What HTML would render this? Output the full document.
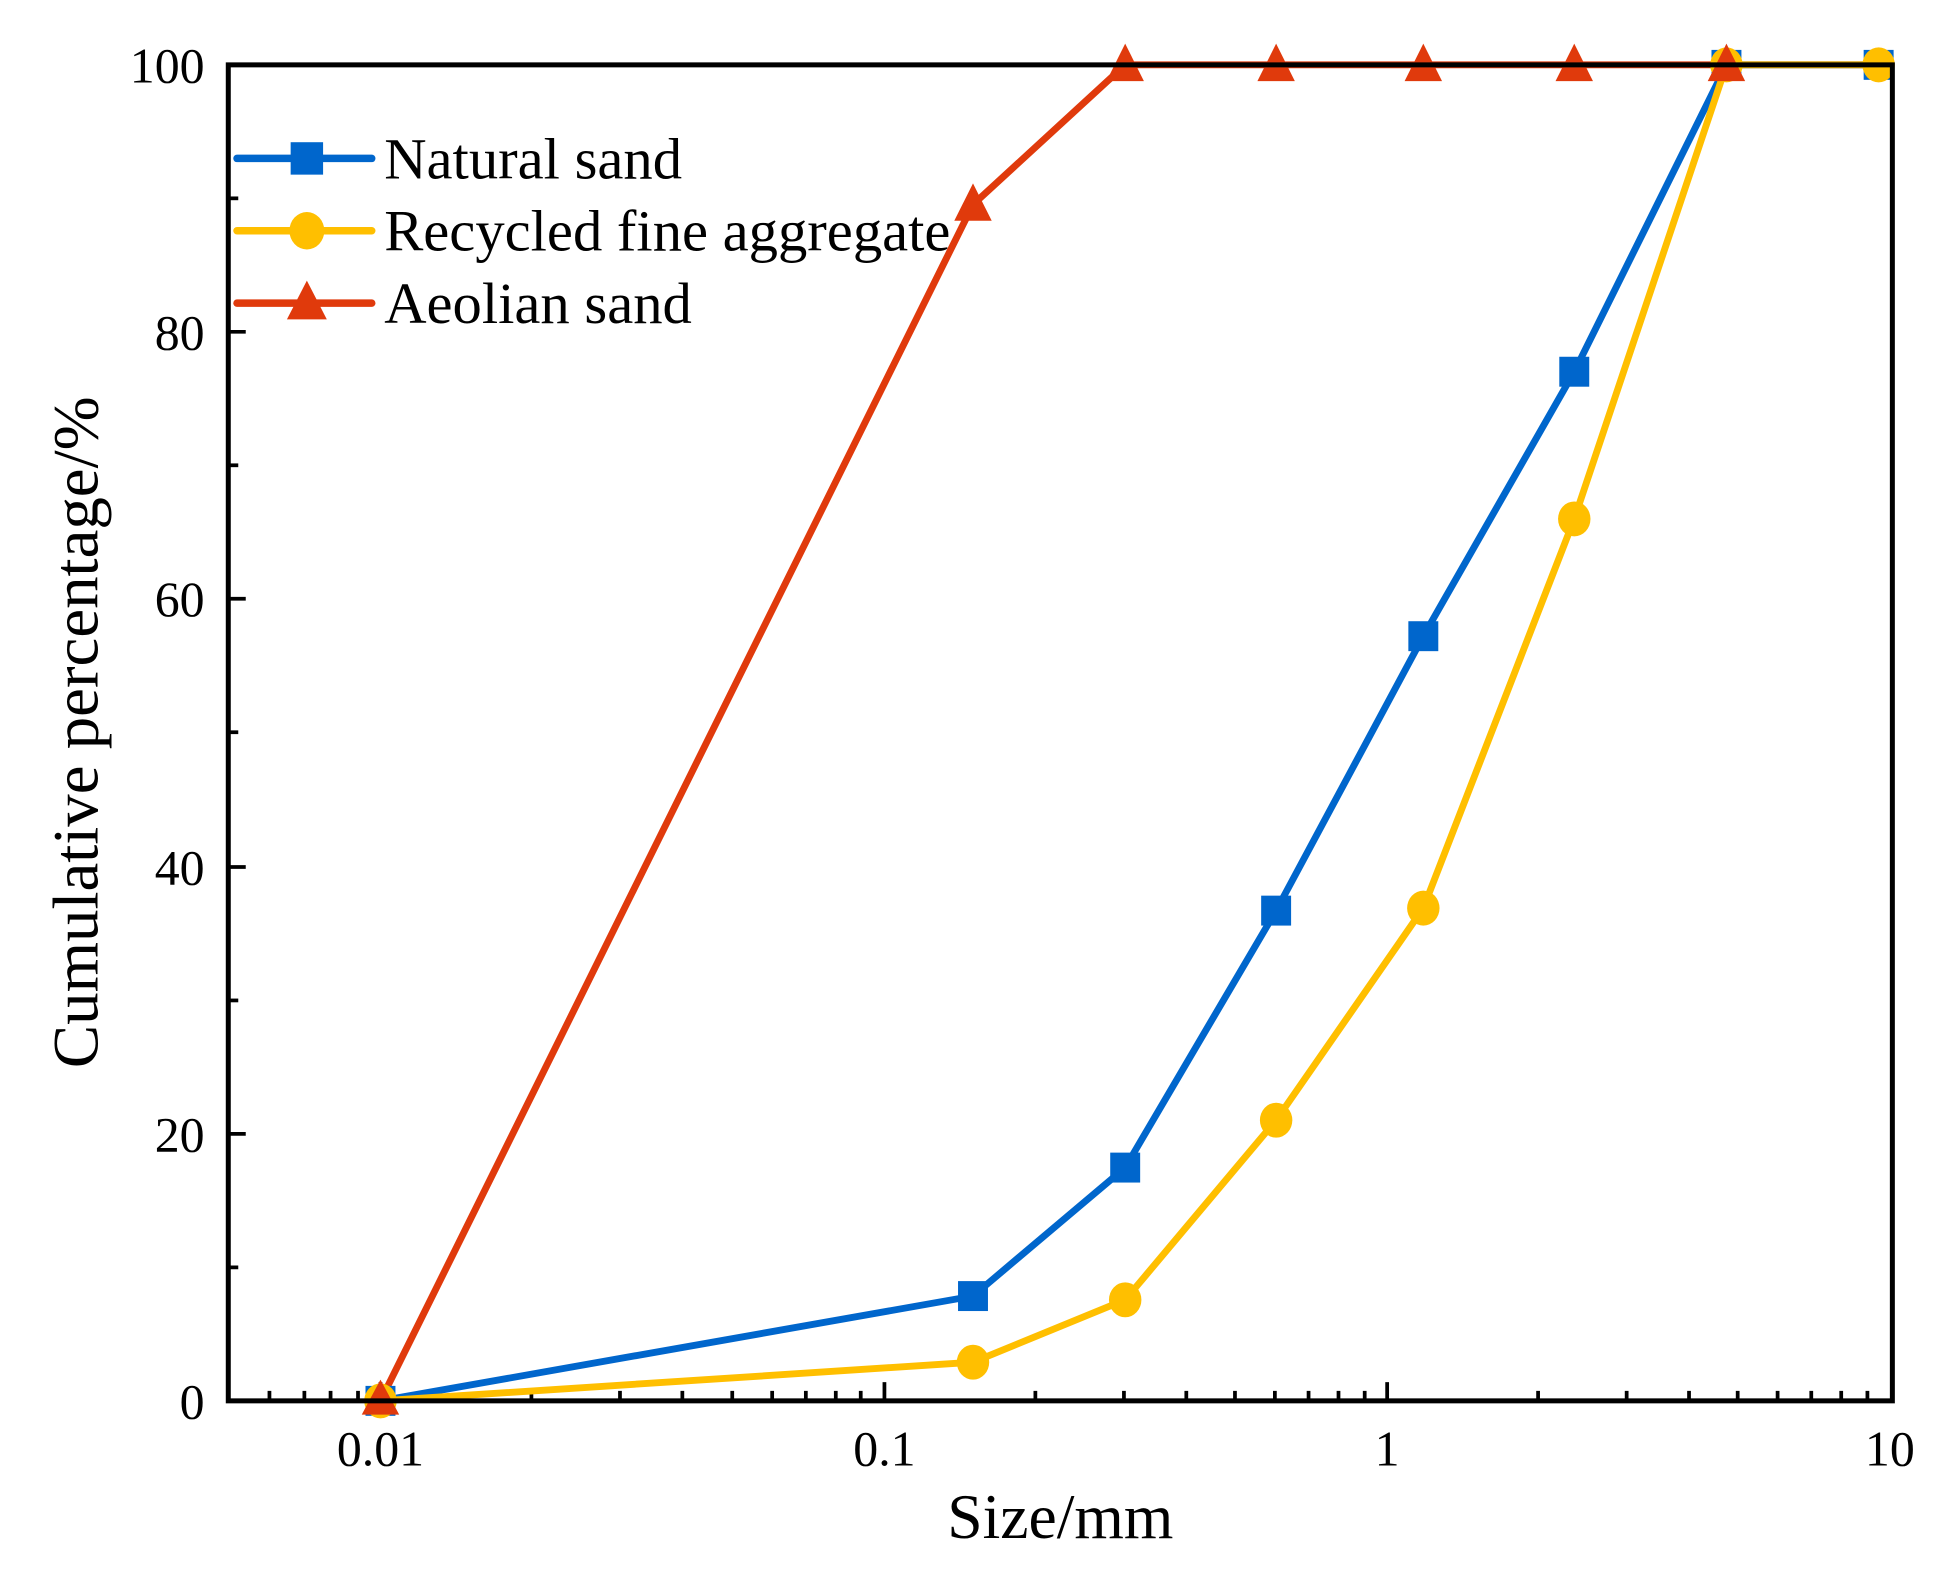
<!DOCTYPE html>
<html><head><style>html,body{margin:0;padding:0;background:#fff}svg{display:block}</style></head><body>
<svg width="1946" height="1573" viewBox="0 0 1560 1261" preserveAspectRatio="none" xmlns="http://www.w3.org/2000/svg" font-family="Liberation Serif, serif">
<g stroke="#000" stroke-width="3">
<line x1="183" y1="909" x2="197" y2="909"/><line x1="183" y1="695" x2="197" y2="695"/><line x1="183" y1="480" x2="197" y2="480"/><line x1="183" y1="266" x2="197" y2="266"/>
<line x1="183" y1="1016" x2="191" y2="1016"/><line x1="183" y1="802" x2="191" y2="802"/><line x1="183" y1="587" x2="191" y2="587"/><line x1="183" y1="373" x2="191" y2="373"/><line x1="183" y1="159" x2="191" y2="159"/>
<line x1="305" y1="1123" x2="305" y2="1108"/><line x1="709" y1="1123" x2="709" y2="1108"/><line x1="1112" y1="1123" x2="1112" y2="1108"/>
<line x1="216" y1="1123" x2="216" y2="1115"/><line x1="244" y1="1123" x2="244" y2="1115"/><line x1="265" y1="1123" x2="265" y2="1115"/><line x1="287" y1="1123" x2="287" y2="1115"/>
<line x1="426" y1="1123" x2="426" y2="1115"/><line x1="497" y1="1123" x2="497" y2="1115"/><line x1="547" y1="1123" x2="547" y2="1115"/><line x1="587" y1="1123" x2="587" y2="1115"/><line x1="619" y1="1123" x2="619" y2="1115"/><line x1="646" y1="1123" x2="646" y2="1115"/><line x1="670" y1="1123" x2="670" y2="1115"/><line x1="690" y1="1123" x2="690" y2="1115"/>
<line x1="830" y1="1123" x2="830" y2="1115"/><line x1="901" y1="1123" x2="901" y2="1115"/><line x1="951" y1="1123" x2="951" y2="1115"/><line x1="990" y1="1123" x2="990" y2="1115"/><line x1="1022" y1="1123" x2="1022" y2="1115"/><line x1="1049" y1="1123" x2="1049" y2="1115"/><line x1="1073" y1="1123" x2="1073" y2="1115"/><line x1="1094" y1="1123" x2="1094" y2="1115"/>
<line x1="1233" y1="1123" x2="1233" y2="1115"/><line x1="1304" y1="1123" x2="1304" y2="1115"/><line x1="1354" y1="1123" x2="1354" y2="1115"/><line x1="1393" y1="1123" x2="1393" y2="1115"/><line x1="1425" y1="1123" x2="1425" y2="1115"/><line x1="1452" y1="1123" x2="1452" y2="1115"/><line x1="1476" y1="1123" x2="1476" y2="1115"/><line x1="1497" y1="1123" x2="1497" y2="1115"/>
</g>
<polyline fill="none" stroke="#e03a0c" stroke-width="5.5" points="305,1123 780,164 902,52 1023,52 1141,52 1262,52 1384,52 1506,52"/>
<polyline fill="none" stroke="#0066cc" stroke-width="5.5" points="305,1123 780,1039 902,936 1023,730 1141,510 1262,298 1384,52 1506,52"/>
<polyline fill="none" stroke="#ffbf00" stroke-width="5.5" points="305,1123 780,1092 902,1042 1023,898 1141,728 1262,416 1384,52 1506,52"/>
<g fill="#0066cc">
<rect x="293" y="1111" width="24" height="24"/><rect x="768" y="1027" width="24" height="24"/><rect x="890" y="924" width="24" height="24"/><rect x="1011" y="718" width="24" height="24"/><rect x="1129" y="498" width="24" height="24"/><rect x="1250" y="286" width="24" height="24"/><rect x="1372" y="40" width="24" height="24"/><rect x="1494" y="40" width="24" height="24"/>
</g>
<g fill="#ffbf00">
<ellipse cx="305" cy="1123" rx="13" ry="14"/><ellipse cx="780" cy="1092" rx="13" ry="14"/><ellipse cx="902" cy="1042" rx="13" ry="14"/><ellipse cx="1023" cy="898" rx="13" ry="14"/><ellipse cx="1141" cy="728" rx="13" ry="14"/><ellipse cx="1262" cy="416" rx="13" ry="14"/><ellipse cx="1384" cy="52" rx="13" ry="14"/><ellipse cx="1506" cy="52" rx="13" ry="14"/>
</g>
<g fill="#e03a0c">
<polygon points="305,1106 290,1134 320,1134"/><polygon points="780,147 765,177 795,177"/><polygon points="902,35 887,65 917,65"/><polygon points="1023,35 1008,65 1038,65"/><polygon points="1141,35 1126,65 1156,65"/><polygon points="1262,35 1247,65 1277,65"/><polygon points="1384,35 1369,65 1399,65"/>
</g>
<rect x="183" y="52" width="1334" height="1071" fill="none" stroke="#000" stroke-width="4"/>
<line x1="190" y1="127" x2="298" y2="127" stroke="#0066cc" stroke-width="6" stroke-linecap="round"/><rect x="233" y="114" width="26" height="26" fill="#0066cc"/>
<line x1="190" y1="185" x2="298" y2="185" stroke="#ffbf00" stroke-width="6" stroke-linecap="round"/><ellipse cx="246" cy="185" rx="14" ry="15" fill="#ffbf00"/>
<line x1="190" y1="243" x2="298" y2="243" stroke="#e03a0c" stroke-width="6" stroke-linecap="round"/><polygon points="246,225 230,256 262,256" fill="#e03a0c"/>
<g font-size="47" fill="#000">
<text x="308" y="143">Natural sand</text>
<text x="308" y="201">Recycled fine aggregate</text>
<text x="308" y="259">Aeolian sand</text>
</g>
<g font-size="40" fill="#000" text-anchor="end">
<text x="164" y="1137">0</text><text x="164" y="923">20</text><text x="164" y="709">40</text><text x="164" y="494">60</text><text x="164" y="280">80</text><text x="164" y="66">100</text>
</g>
<g font-size="40" fill="#000" text-anchor="middle">
<text x="305" y="1175">0.01</text><text x="709" y="1175">0.1</text><text x="1112" y="1175">1</text><text x="1515" y="1175">10</text>
</g>
<text x="850" y="1233" font-size="51" text-anchor="middle">Size/mm</text>
<text transform="translate(78,587) rotate(-90)" font-size="52" text-anchor="middle">Cumulative percentage/%</text>
</svg>
</body></html>
